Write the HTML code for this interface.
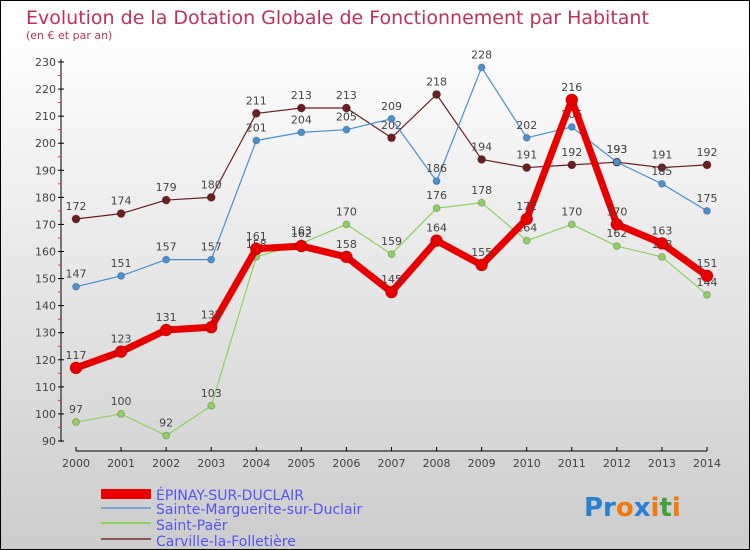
<!DOCTYPE html>
<html><head><meta charset="utf-8"><style>
body{margin:0}
#c{position:relative;width:748px;height:548px;border:1px solid #000;background:linear-gradient(#fff,#fff 5%,#ccc);overflow:hidden;font-family:"DejaVu Sans","Liberation Sans",sans-serif}
</style></head><body>
<div id="c">
<svg id="s" width="748" height="548" style="position:absolute;left:0;top:0">
<text x="25" y="23" font-size="19" fill="#c0305a">Evolution de la Dotation Globale de Fonctionnement par Habitant</text>
<text x="25" y="38" font-size="11" fill="#c0305a">(en € et par an)</text>
<g id="axes"></g><g id="series"></g>
<g>
<rect x="100" y="488" width="50" height="10" fill="#e00"/>
<line x1="100" y1="507" x2="150" y2="507" stroke="#7aa6d0" stroke-width="2"/>
<line x1="100" y1="522" x2="150" y2="522" stroke="#8fd060" stroke-width="2"/>
<line x1="100" y1="538" x2="150" y2="538" stroke="#8a5a5a" stroke-width="2"/>
<g font-size="14" fill="#5555ee">
<text x="155" y="499">ÉPINAY-SUR-DUCLAIR</text>
<text x="155" y="513">Sainte-Marguerite-sur-Duclair</text>
<text x="155" y="529">Saint-Paër</text>
<text x="155" y="545">Carville-la-Folletière</text>
</g></g>
<text x="583" y="515" font-size="26" font-weight="bold"><tspan fill="#2a7fd0">Pr</tspan><tspan fill="#f07a10">o</tspan><tspan fill="#2a7fd0">x</tspan><tspan fill="#f07a10">i</tspan><tspan fill="#40a040">t</tspan><tspan fill="#f07a10">i</tspan></text>
</svg></div>
<script>
const years=[2000,2001,2002,2003,2004,2005,2006,2007,2008,2009,2010,2011,2012,2013,2014];
const epinay=[117,123,131,132,161,162,158,145,164,155,172,216,170,163,151];
const sainteMarguerite=[147,151,157,157,201,204,205,209,186,228,202,206,193,185,175];
const saintPaer=[97,100,92,103,158,163,170,159,176,178,164,170,162,158,144];
const carville=[172,174,179,180,211,213,213,202,218,194,191,192,193,191,192];
const yTicks=[90,100,110,120,130,140,150,160,170,180,190,200,210,220,230];
const NS="http://www.w3.org/2000/svg";
const xs=i=>75+i*(631/14);
const ys=v=>440-(v-90)*(379/140);
function mk(t,a,p){const e=document.createElementNS(NS,t);for(const k in a)e.setAttribute(k,a[k]);p.appendChild(e);return e;}
const ax=document.getElementById('axes');
let l=mk('line',{x1:60,y1:58,x2:60,y2:441,stroke:'#000'},ax);


l=mk('line',{x1:75,y1:450,x2:706,y2:450,stroke:'#000'},ax);


yTicks.forEach(v=>{
 mk('line',{x1:57,y1:ys(v),x2:63,y2:ys(v),stroke:'#000'},ax);
 if(v<230) mk('line',{x1:57,y1:ys(v+5),x2:60,y2:ys(v+5),stroke:'#e33'},ax);
 const t=mk('text',{x:55,y:ys(v)+4,'font-size':11,fill:'#444','text-anchor':'end'},ax);
 t.textContent=v;
 
 
});
years.forEach((y,i)=>{
 mk('line',{x1:xs(i),y1:446,x2:xs(i),y2:450,stroke:'#000'},ax);
 const t=mk('text',{x:xs(i),y:466,'font-size':11,fill:'#444','text-anchor':'middle'},ax);
 t.textContent=y;
 
 
});
const sg=document.getElementById('series');
function draw(data,color,w,r,name){
 const g=mk('g',{},sg);
 
 
 const p=mk('polyline',{points:data.map((v,i)=>xs(i)+','+ys(v)).join(' '),fill:'none',stroke:color,'stroke-width':w,'stroke-linejoin':'round'},g);
 
 
 data.forEach((v,i)=>{
  const c=mk('circle',{cx:xs(i),cy:ys(v),r:r,fill:color,stroke:'#0003'},g);
  
  
  const t=mk('text',{x:xs(i),y:ys(v)-9,'font-size':11,fill:'#444','text-anchor':'middle'},g);
  t.textContent=v;
  
  
 });
}
draw(carville,'#6b1f22',1.2,4,'carville');
draw(sainteMarguerite,'#4a90d0',1.2,3.5,'sainte-marguerite');
draw(saintPaer,'#8fd060',1.2,3.5,'saint-paer');
draw(epinay,'#e80000',7,6,'epinay');
</script>
</body></html>
